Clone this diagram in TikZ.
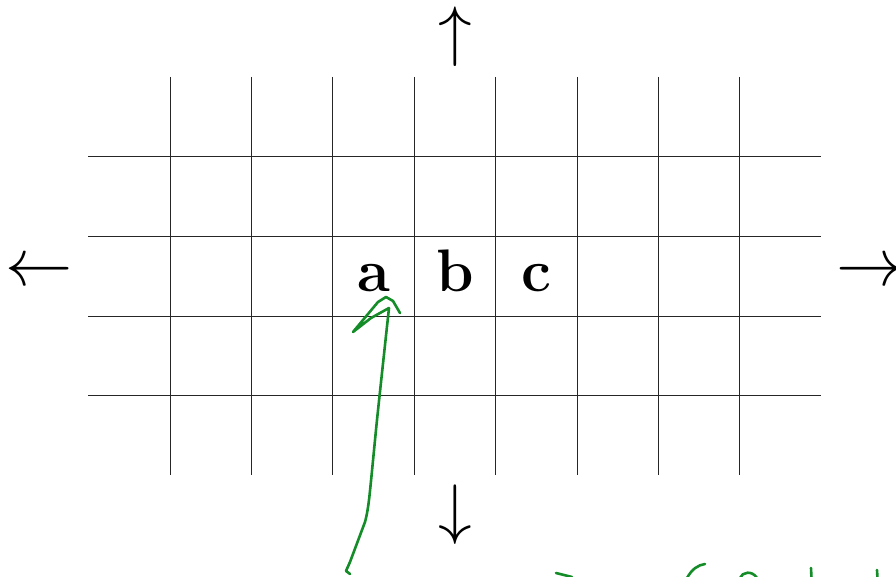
\documentclass[tikz,border=0pt]{standalone}
\usetikzlibrary{calc}
\definecolor{ink}{RGB}{20,140,40}
\begin{document}
\begin{tikzpicture}[x=0.5pt,y=-0.5pt,
  gridline/.style={line width=0.5pt,draw=black!85},
  letter/.style={inner sep=0pt,font=\fontsize{30}{35}\selectfont\bfseries},
  arrowsym/.style={inner sep=0pt,font=\Huge,scale=1.35},
  pen/.style={draw=ink,line width=1.3pt,line cap=round,line join=round}]
\useasboundingbox (0,0) rectangle (896,577);
% grid
\foreach \x in {170,251.4,332.8,414.2,495.6,577,658.4,739.8}
  \draw[gridline] (\x,77) -- (\x,475);
\foreach \y in {157,236.7,316.4,396}
  \draw[gridline] (88,\y) -- (821,\y);
% letters
\node[letter,anchor=base] (a) at (373.5,292) {a};
\node[letter,anchor=base] (b) at (455,292) {b};
\node[letter,anchor=base] (c) at (536.5,292) {c};
% arrows
\node[arrowsym] (left) at (39,273) {$\leftarrow$};
\node[arrowsym] (right) at (870,273) {$\rightarrow$};
\node[arrowsym] (up) at (455,37) {$\uparrow$};
\node[arrowsym] (down) at (455,515) {$\downarrow$};
% green annotation
\draw[pen] (400,313) -- (393,301) -- (386,297) -- (378,302) -- (353,332)
  -- (371,318) -- (389,308)
  plot[smooth] coordinates {(389,308) (385,345) (377,420) (369,500) (365,522)}
  -- (350,562) -- (346,571) -- (350,574);
\draw[pen] (556,573) -- (572,577);
\draw[pen] (687,578) .. controls (692,569) and (698,565) .. (705,564);
\draw[pen] (740,578) .. controls (742,572) and (752,570) .. (757,578);
\draw[pen] (811,568) -- (811.5,578);
\draw[pen] (877,570) -- (877.5,578);
\end{tikzpicture}
\end{document}
